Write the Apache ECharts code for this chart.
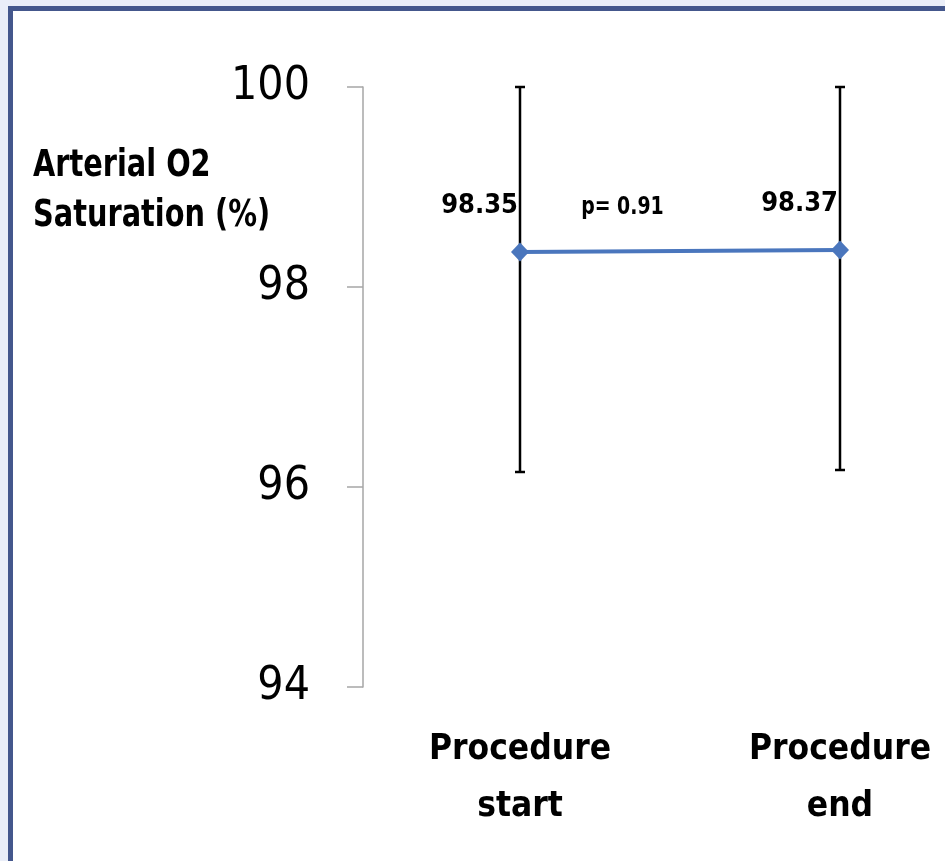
<!DOCTYPE html>
<html>
<head>
<meta charset="utf-8">
<script src="https://cdn.jsdelivr.net/npm/echarts@6/dist/echarts.min.js"></script>
<style>
html,body{margin:0;padding:0;background:#eaeef8;overflow:hidden;}
#chart{width:945px;height:861px;}
</style>
</head>
<body>
<div id="chart"></div>
<script>
const categories = ['Procedure\nstart', 'Procedure\nend'];
const meanValues = [98.35, 98.37];
const errLow = [96.15, 96.17];
const errHigh = [100, 100];
const yTicks = [94, 96, 98, 100];
const yAxisTitle = 'Arterial O2\nSaturation (%)';
const pValueText = 'p= 0.91';
const pValueLevel = 98.79;

const FONT = "'DejaVu Sans Condensed', 'Liberation Sans Narrow', sans-serif";
const chart = echarts.init(document.getElementById('chart'), null, {renderer: 'canvas', width: 945, height: 861});

const errData = categories.map((c, i) => [i, errLow[i], errHigh[i]]);

const option = {
  backgroundColor: 'transparent',
  animation: false,
  grid: {left: 520, right: 105, top: 87, bottom: 174, containLabel: false},
  xAxis: {
    type: 'category',
    data: categories,
    boundaryGap: false,
    axisLine: {show: false},
    axisTick: {show: false},
    splitLine: {show: false},
    axisLabel: {
      color: '#000', fontFamily: FONT, fontWeight: 'bold',
      fontSize: 35, lineHeight: 57, margin: 34
    }
  },
  yAxis: {
    type: 'value',
    min: yTicks[0], max: yTicks[yTicks.length - 1], interval: 2,
    offset: 157,
    axisLine: {show: true, lineStyle: {color: '#a6a6a6', width: 1.5}},
    axisTick: {show: true, length: 16, lineStyle: {color: '#a6a6a6', width: 1.5}},
    splitLine: {show: false},
    axisLabel: {color: '#000', fontFamily: FONT, fontSize: 46, margin: 53}
  },
  series: [
    {
      type: 'custom',
      data: errData,
      z: 1,
      renderItem: function (params, api) {
        const x = api.coord([api.value(0), api.value(1)])[0];
        const yl = api.coord([api.value(0), api.value(1)])[1];
        const yh = api.coord([api.value(0), api.value(2)])[1];
        const cw = 5;
        const st = {stroke: '#000', lineWidth: 2.5};
        return {
          type: 'group',
          children: [
            {type: 'line', shape: {x1: x, y1: yh, x2: x, y2: yl}, style: st},
            {type: 'line', shape: {x1: x - cw, y1: yh, x2: x + cw, y2: yh}, style: st},
            {type: 'line', shape: {x1: x - cw, y1: yl, x2: x + cw, y2: yl}, style: st}
          ]
        };
      }
    },
    {
      type: 'line',
      data: meanValues,
      z: 3,
      symbol: 'diamond',
      symbolSize: [18, 19],
      lineStyle: {color: '#4a76bd', width: 4},
      itemStyle: {color: '#4a76bd'},
      label: {
        show: true,
        position: 'top',
        align: 'right',
        distance: 23,
        offset: [-2, 0],
        color: '#000',
        fontFamily: FONT,
        fontWeight: 'bold',
        fontSize: 27,
        formatter: p => p.value.toFixed(2)
      }
    }
  ]
};
chart.setOption(option);

const p0 = chart.convertToPixel({xAxisIndex: 0}, 0);
const p1 = chart.convertToPixel({xAxisIndex: 0}, 1);
const py = chart.convertToPixel({yAxisIndex: 0}, pValueLevel);

chart.setOption({
  graphic: [
    {
      type: 'rect', z: -10, silent: true,
      shape: {x: 10.5, y: 8.5, width: 1200, height: 1200},
      style: {fill: '#ffffff', stroke: '#44578c', lineWidth: 5}
    },
    {
      type: 'text', x: 33, y: 141, scaleY: 1.15,
      style: {text: yAxisTitle, fill: '#000', font: 'bold 32px ' + FONT, lineHeight: 44}
    },
    {
      type: 'text', x: p0 + 0.32 * (p1 - p0), y: py, scaleY: 1.15,
      style: {text: pValueText, fill: '#000', font: 'bold 21px ' + FONT, align: 'center', verticalAlign: 'middle'}
    }
  ]
});
</script>
</body>
</html>
